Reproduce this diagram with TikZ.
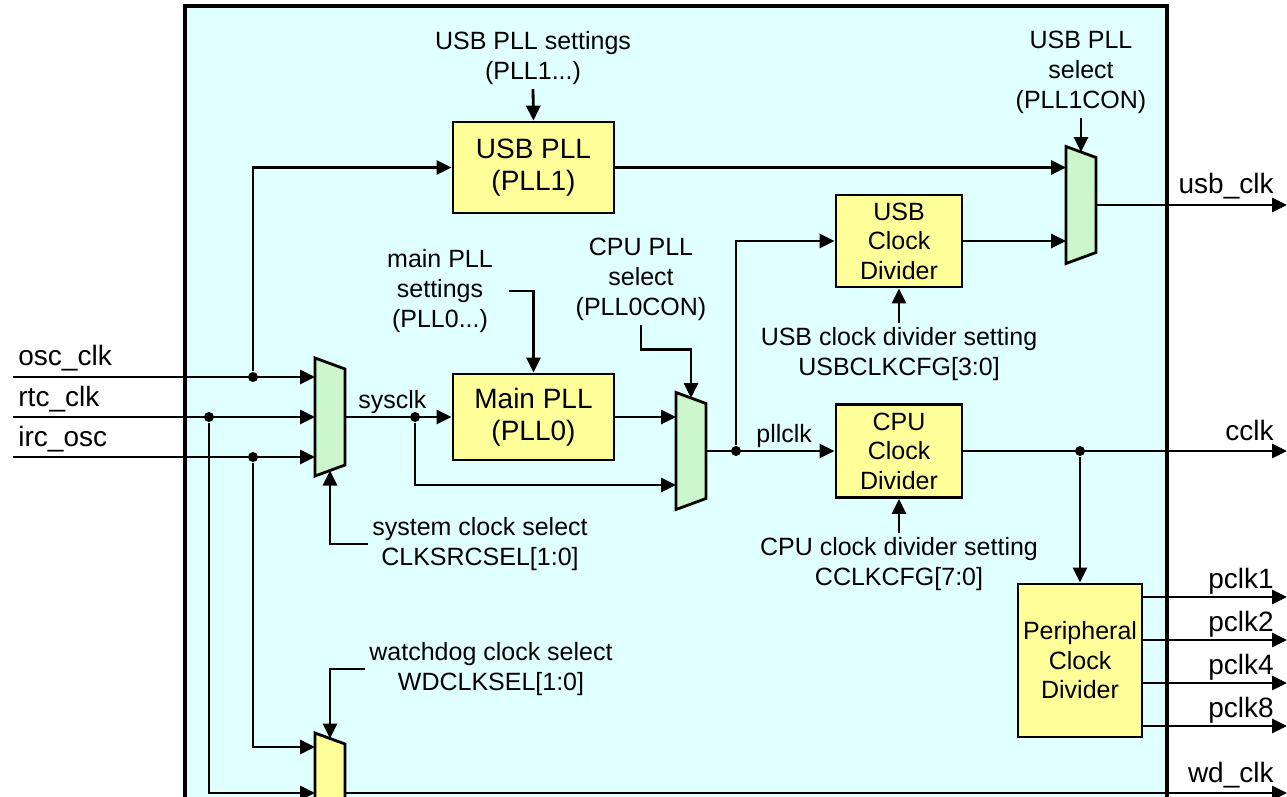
\documentclass[tikz,border=0pt]{standalone}
\usepackage{fontspec}
\setmainfont{Liberation Sans}
\usetikzlibrary{arrows.meta}
\definecolor{frameblue}{HTML}{E0FFFF}
\definecolor{boxyellow}{HTML}{FFFF99}
\definecolor{muxgreen}{HTML}{CCF7CC}

% trapezoid of a multiplexer over an empty node
\newcommand\drawmux[2]{%
  \draw[fill=#2] (#1.north west) -- coordinate[midway] (#1-t) ([yshift=-11pt]#1.north east)
    -- ([yshift=11pt]#1.south east) -- coordinate[midway] (#1-b) (#1.south west) -- cycle;}

\begin{document}
\begin{tikzpicture}[x=1pt,y=-1pt,line width=2.8pt,
  >={Triangle[length=15pt,width=14pt]},
  box/.style={draw,fill=boxyellow,align=center,inner sep=0pt,font=\fontsize{25}{29.5}\selectfont},
  pllbox/.style={box,font=\fontsize{28}{32}\selectfont},
  muxspace/.style={inner sep=0pt,outer sep=0pt,minimum width=30pt},
  txt/.style={align=center,inner sep=3pt,font=\fontsize{25}{30}\selectfont},
  sig/.style={inner sep=0pt,font=\fontsize{28}{32}\selectfont},
  dot/.style={circle,fill,inner sep=0pt,minimum size=10pt}]
\useasboundingbox (0,0) rectangle (1287,796);
\clip (0,0) rectangle (1287,796);
\draw[line width=3.5pt,fill=frameblue] (185,6) rectangle (1167,900);

% blocks
\node[pllbox,minimum width=161pt,minimum height=91pt] (usbpll) at (533.5,167.5) {USB PLL\\(PLL1)};
\node[pllbox,minimum width=161pt,minimum height=86pt] (mainpll) at (533.5,417) {Main PLL\\(PLL0)};
\node[box,minimum width=126pt,minimum height=92pt] (usbdiv) at (899,241) {USB\\Clock\\Divider};
\node[box,minimum width=126pt,minimum height=93pt] (cpudiv) at (899,451) {CPU\\Clock\\Divider};
\node[box,minimum width=124pt,minimum height=153pt] (perdiv) at (1080,660.5) {Peripheral\\Clock\\Divider};

% muxes
\node[muxspace,minimum height=118pt] (smux) at (330,417) {};
\node[muxspace,minimum height=117pt] (cmux) at (691,451) {};
\node[muxspace,minimum height=117pt] (umux) at (1081,205) {};
\node[muxspace,minimum height=120pt] (wmux) at (330,793) {};
\drawmux{smux}{muxgreen}
\drawmux{cmux}{muxgreen}
\drawmux{umux}{muxgreen}
\drawmux{wmux}{boxyellow}

% inputs
\coordinate (oscin) at (13,377);
\coordinate (rtcin) at (13,417);
\coordinate (ircin) at (13,457);
\node[sig,anchor=base west] (osclbl) at (17,365) {osc\_clk};
\node[sig,anchor=base west] (rtclbl) at (17,406) {rtc\_clk};
\node[sig,anchor=base west] (irclbl) at (17,446) {irc\_osc};
\draw[->] (oscin) -- (oscin -| smux.west);
\draw[->] (rtcin) -- (rtcin -| smux.west);
\draw[->] (ircin) -- (ircin -| smux.west);
\node[dot] (josc) at (253,377) {};
\node[dot] (jrtc) at (209,417) {};
\node[dot] (jirc) at (253,457) {};
\draw[->] (josc) |- (usbpll.west);
\draw[->] (jirc) |- ([yshift=46pt]wmux.west);
\draw[->] (jrtc) |- (wmux.west);

% sysclk
\draw[->] (smux.east) -- (mainpll.west);
\node[txt,anchor=base west,inner sep=0pt] (syslbl) at (357,408) {sysclk};
\node[dot] (jsys) at (415,417) {};
\draw[->] (jsys) |- ([yshift=-34pt]cmux.west);
\draw[->] (mainpll.east) -- (mainpll.east -| cmux.west);

% settings and selects
\node[txt] (usbset) at (533,58) {USB PLL settings\\(PLL1...)};
\draw[->] (usbset.south) -- (usbpll.north);
\node[txt] (mainset) at (440,291) {main PLL\\settings\\(PLL0...)};
\draw[->] ([xshift=12pt]mainset.east) -| (mainpll.north);
\node[txt] (cpusel) at (641,279) {CPU PLL\\select\\(PLL0CON)};
\draw[->] (cpusel.south) -- ++(0,25) -| (cmux-t);
\node[txt] (usbsel) at (1081,72) {USB PLL\\select\\(PLL1CON)};
\draw[->] (usbsel.south) -- (umux-t);
\node[txt] (sysset) at (480,544) {system clock select\\CLKSRCSEL[1:0]};
\draw[->] (sysset.west) -| (smux-b);
\node[txt] (wdset) at (491,669) {watchdog clock select\\WDCLKSEL[1:0]};
\draw[->] (wdset.west) -| (wmux-t);
\node[txt] (usbdivset) at (899,354) {USB clock divider setting\\USBCLKCFG[3:0]};
\draw[->] (usbdivset.north) -- (usbdiv.south);
\node[txt] (cpudivset) at (899,564) {CPU clock divider setting\\CCLKCFG[7:0]};
\draw[->] (cpudivset.north) -- (cpudiv.south);

% pllclk
\draw[->] (cmux.east) -- (cpudiv.west);
\node[txt,anchor=base west,inner sep=0pt] (plllbl) at (755,442) {pllclk};
\node[dot] (jpll) at (736,451) {};
\draw[->] (jpll) |- (usbdiv.west);
\draw[->] (usbdiv.east) -- (usbdiv.east -| umux.west);
\draw[->] (usbpll.east) -- (usbpll.east -| umux.west);

% outputs
\coordinate (usbout) at (1287,205);
\draw[->] (umux.east) -- (usbout);
\node[sig,anchor=base east] (usblbl) at (1275,193) {usb\_clk};
\coordinate (cclkout) at (1287,451);
\draw[->] (cpudiv.east) -- (cclkout);
\node[sig,anchor=base east] (cclklbl) at (1275,440) {cclk};
\node[dot] (jcclk) at (1080,451) {};
\draw[->] (jcclk) -- (perdiv.north);
\foreach \y/\n in {597/1,640/2,683/4,726/8} {
  \coordinate (pclk\n) at (1287,\y);
  \draw[->] (pclk\n -| perdiv.east) -- (pclk\n);
  \node[sig,anchor=base east] (pclklbl\n) at (1275,\y-9) {pclk\n};
}
\coordinate (wdout) at (1287,793);
\draw[->] (wmux.east) -- (wdout);
\node[sig,anchor=base east] (wdlbl) at (1275,782) {wd\_clk};
\end{tikzpicture}
\end{document}
